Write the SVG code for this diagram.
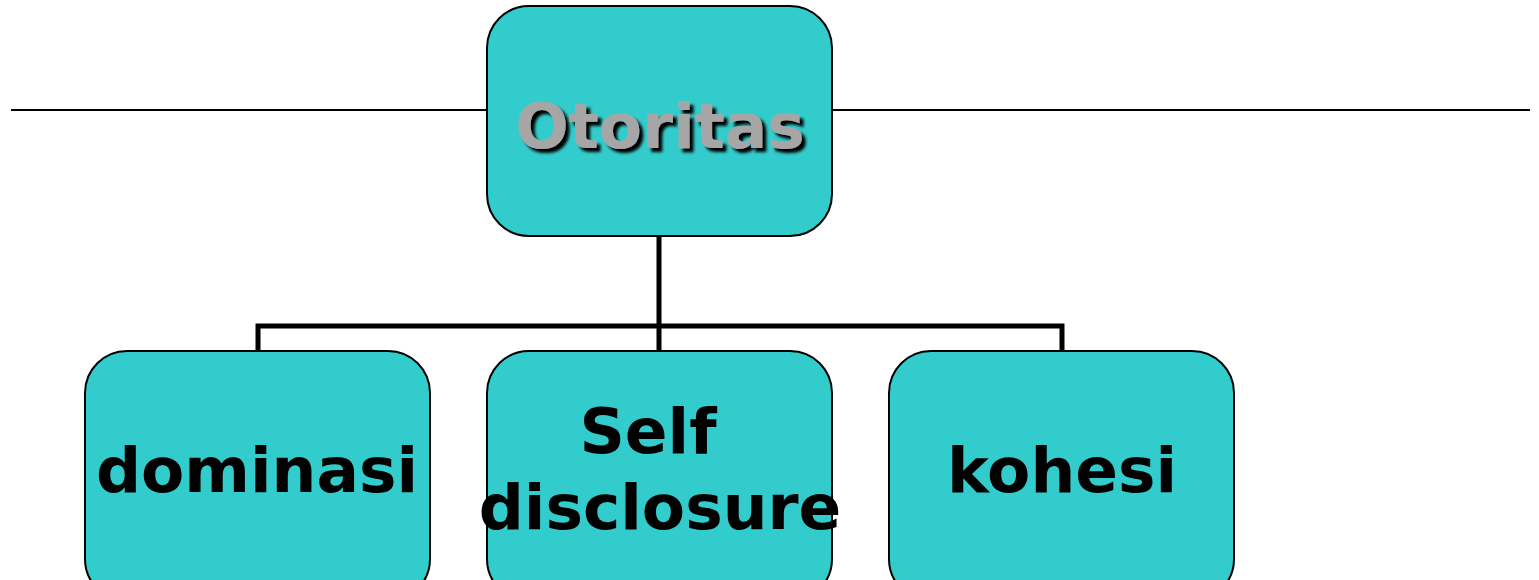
<svg xmlns="http://www.w3.org/2000/svg" width="1539" height="580" viewBox="0 0 1539 580">
<defs>
<style>
.box{fill:#33CCCC;stroke:#000;stroke-width:2}
.lbl{font-family:"DejaVu Sans",Verdana,sans-serif;font-weight:bold;font-size:63px;text-anchor:middle;fill:#000}
.conn{fill:none;stroke:#000;stroke-width:5}
</style>
<filter id="sh" x="-10%" y="-20%" width="130%" height="150%">
<feGaussianBlur in="SourceAlpha" stdDeviation="1.5"/>
<feOffset dx="4" dy="4" result="b"/>
<feMerge><feMergeNode in="b"/><feMergeNode in="SourceGraphic"/></feMerge>
</filter>
</defs>
<rect width="1539" height="580" fill="#fff"/>
<line x1="11" y1="110" x2="1530" y2="110" stroke="#000" stroke-width="2"/>
<g id="connectors">
<path class="conn" d="M659 236 V326 M258 351 V326 H1062 V351 M659 326 V351"/>
</g>
<g id="otoritas">
<rect class="box" x="487" y="6" width="345" height="230" rx="42"/>
<text class="lbl" x="660" y="148" fill="#A6A6A6" style="fill:#A6A6A6" filter="url(#sh)">Otoritas</text>
</g>
<g id="dominasi">
<rect class="box" x="85" y="351" width="345" height="250" rx="42"/>
<text class="lbl" x="257" y="492">dominasi</text>
</g>
<g id="self-disclosure">
<rect class="box" x="487" y="351" width="345" height="250" rx="42"/>
<text class="lbl" x="648" y="453">Self</text>
<text class="lbl" x="660" y="529">disclosure</text>
</g>
<g id="kohesi">
<rect class="box" x="889" y="351" width="345" height="250" rx="42"/>
<text class="lbl" x="1062" y="492">kohesi</text>
</g>
</svg>
